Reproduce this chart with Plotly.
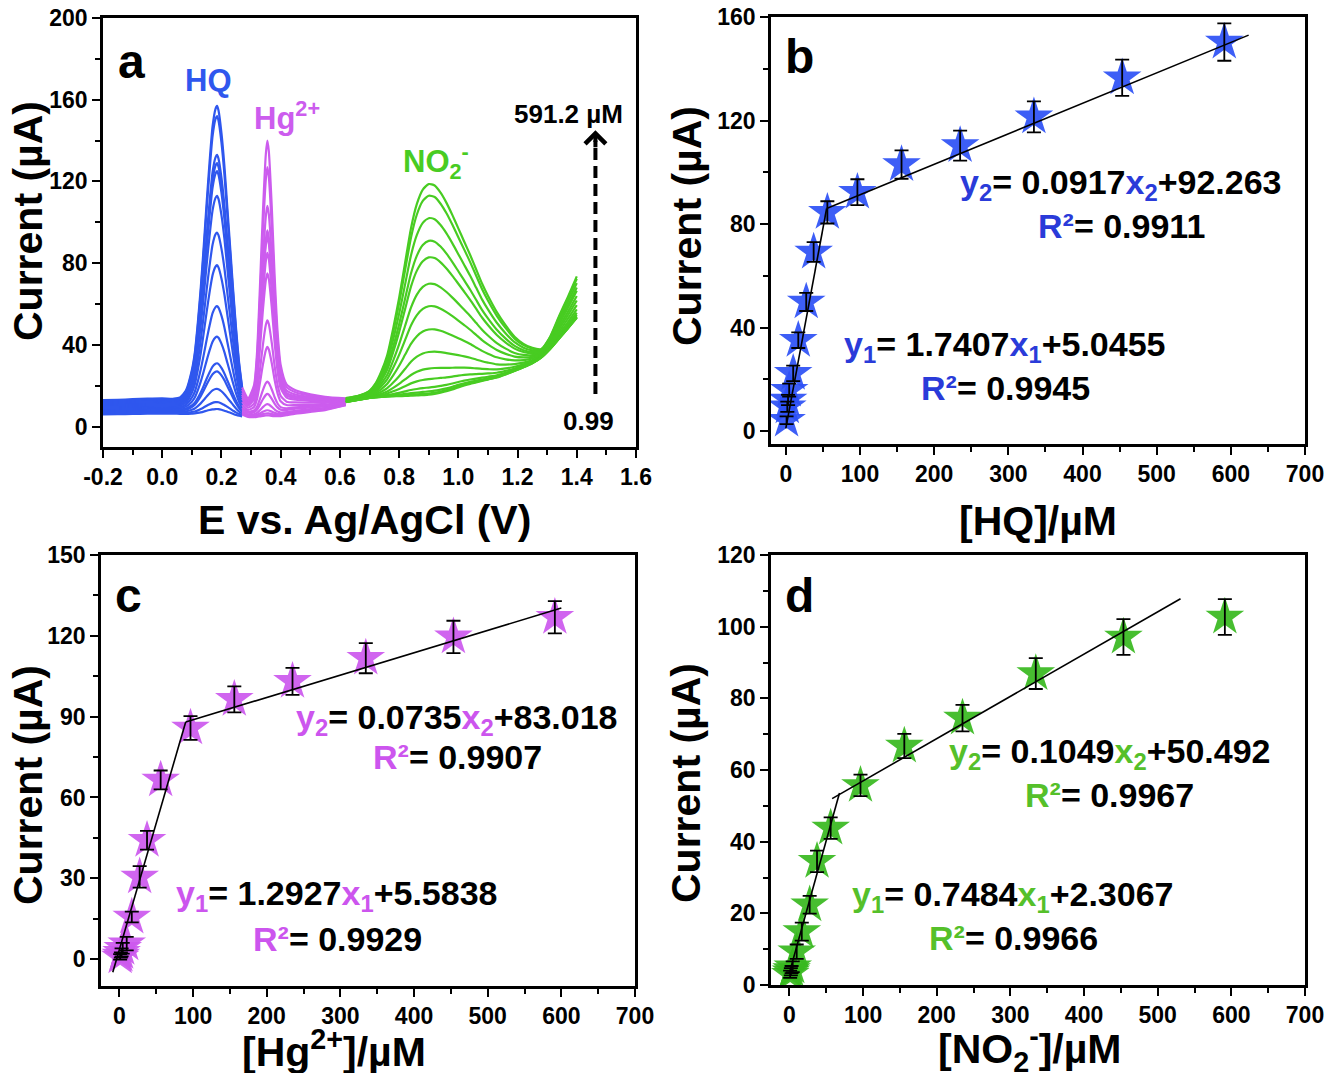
import plotly.graph_objects as go
import numpy as np

# ---------------- Panel a: voltammogram data ----------------
HQ_E = [-0.20, -0.15, -0.10, -0.05, 0.00, 0.04, 0.06, 0.08, 0.10, 0.11, 0.12, 0.13, 0.14, 0.15,
        0.16, 0.17, 0.18, 0.185, 0.19, 0.20, 0.21, 0.22, 0.23, 0.24, 0.25, 0.26, 0.27]
HQ_PROFILE = [0, 0, 0, 0, 0, 0, 0.005, 0.03, 0.10, 0.16, 0.26, 0.38, 0.52, 0.67,
              0.81, 0.93, 0.99, 1.0, 0.985, 0.91, 0.80, 0.66, 0.52, 0.38, 0.25, 0.14, 0.06]
HQ_BASE_SHAPE = [1.0, 1.01, 1.03, 1.05, 1.06, 1.05, 1.04, 1.02, 1.0, 0.98, 0.96, 0.94, 0.92, 0.9,
                 0.88, 0.86, 0.85, 0.85, 0.85, 0.84, 0.83, 0.82, 0.82, 0.81, 0.8, 0.8, 0.8]
HQ_PEAKS = [157, 152, 133, 129, 125, 113, 95, 79, 59, 44, 31, 27, 18.5, 12, 8.6]
HQ_BASES = [13, 12.5, 12, 11.5, 11, 10.5, 10, 9.5, 9, 8.5, 8, 7.5, 7, 6.5, 6]

HG_E = [0.27, 0.29, 0.31, 0.32, 0.33, 0.34, 0.35, 0.355, 0.36, 0.37, 0.38, 0.39, 0.40,
        0.42, 0.45, 0.50, 0.55, 0.62]
HG_PROFILE = [0.05, 0.03, 0.08, 0.20, 0.45, 0.73, 0.95, 1.0, 0.96, 0.75, 0.48, 0.27, 0.15,
              0.07, 0.04, 0.02, 0.01, 0.0]
HG_BASE_SHAPE = [0.9, 0.72, 0.70, 0.70, 0.70, 0.70, 0.70, 0.70, 0.70, 0.70, 0.72, 0.74, 0.76,
                 0.80, 0.84, 0.80, 0.70, 0.45]
HG_BACKGROUND = [0, 0, 0, 0, 0, 0, 0, 0, 0, 0, 0, 0, 0, 0.3, 0.8, 2.0, 3.5, 7.5]
HG_PEAKS = [140, 127, 108, 96, 93, 85, 75, 52, 39, 22, 16, 11, 8, 6.5, 5.5]
HG_BASES = [14, 13.5, 13, 12.5, 12.5, 12, 11.5, 11, 10, 9.5, 9, 8, 7.5, 7, 6.5]

NO2_E = [0.62, 0.66, 0.70, 0.72, 0.74, 0.76, 0.78, 0.80, 0.82, 0.84, 0.86, 0.88, 0.90, 0.92,
         0.94, 0.96, 0.98, 1.00, 1.02, 1.04, 1.06, 1.08, 1.10, 1.13, 1.16, 1.19, 1.22, 1.25,
         1.28, 1.31, 1.34, 1.37, 1.40]
NO2_TOP = [14, 15, 17.5, 21, 27, 35, 48, 63, 80, 97, 109, 116, 118.7, 118, 114.5, 109.5, 103.5,
           97, 90.5, 84, 77, 70, 64, 56, 49.5, 44, 40.5, 38.5, 38, 44, 54, 63.5, 73.5]
NO2_LOW = [12, 13, 14, 14.3, 14.5, 14.7, 14.8, 14.9, 15, 15.1, 15.2, 15.4, 15.6, 16, 16.6,
           17.3, 18.2, 19.2, 20.1, 20.9, 21.6, 22.3, 23, 24, 25.5, 27.2, 29, 31, 33.8, 38, 43,
           48, 53.2]
NO2_PEAKS = [118.7, 113, 102, 90.9, 82.8, 69.9, 58.9, 47.5, 36.5, 28.4, 23.2, 19.1, 17.2, 16.2, 15.6]

# ---------------- Panels b-d: calibration data ----------------
CONC = [0.99, 1.98, 2.97, 4.5, 9.9, 16.8, 27.5, 37.5, 56.0, 96.5, 156.0, 235.0, 334.5, 453.5, 591.2]
HQ_I = [4.2, 9.4, 12.0, 15.8, 22.3, 35.1, 49.9, 69.2, 84.5, 92.3, 103.0, 110.3, 121.4, 136.5, 150.3]
HQ_ERR = [1.5, 2.0, 2.0, 2.5, 3.0, 3.0, 3.5, 3.8, 4.3, 5.0, 5.5, 5.8, 6.0, 7.0, 7.2]
HG_I = [0.8, 1.5, 2.5, 4.0, 5.7, 15.6, 30.5, 44.1, 66.5, 85.8, 96.4, 103.1, 111.7, 119.6, 126.9]
HG_ERR = [1.0, 1.0, 1.5, 2.0, 2.5, 2.0, 4.0, 3.5, 3.5, 4.4, 4.8, 5.0, 5.6, 6.0, 6.0]
NO2_I = [3.0, 3.7, 4.3, 5.1, 9.3, 14.9, 22.4, 34.5, 43.8, 55.7, 66.7, 74.5, 86.9, 97.1, 102.7]
NO2_ERR = [1.0, 1.0, 1.0, 1.5, 2.0, 2.5, 2.5, 3.0, 3.0, 3.0, 3.4, 3.7, 4.3, 5.0, 5.0]

# fitted segments (end points)
HQ_FIT1_X, HQ_FIT1_Y = [0, 55], [1.0, 86.0]
HQ_FIT2_X, HQ_FIT2_Y = [55, 624], [86.0, 153.0]
HG_FIT1_X, HG_FIT1_Y = [-9, 90], [-4.9, 88.0]
HG_FIT2_X, HG_FIT2_Y = [90, 600], [88.0, 130.3]
NO2_FIT1_X, NO2_FIT1_Y = [0, 68], [3.4, 53.6]
NO2_FIT2_X, NO2_FIT2_Y = [58, 531], [52.0, 107.8]

# tick labels
A_XTICKS = [-0.2, 0.0, 0.2, 0.4, 0.6, 0.8, 1.0, 1.2, 1.4, 1.6]
A_XTEXT = ["-0.2", "0.0", "0.2", "0.4", "0.6", "0.8", "1.0", "1.2", "1.4", "1.6"]

# ---------------- styling ----------------
PAGE_MARGIN = 8                      # default body margin of the html page
W, H = 1332 - 2 * PAGE_MARGIN, 1081 - 2 * PAGE_MARGIN
FONT = "Liberation Sans, Arial, sans-serif"
BLUE, MAG, GREEN = "#2F57EE", "#CC5CEE", "#48CC22"
BLUE_TXT, MAG_TXT, GREEN_TXT = "#2A3BD9", "#CC55EE", "#55C02A"
BLUE_STAR, MAG_STAR, GREEN_STAR = "rgba(45,80,245,0.92)", "rgba(204,88,238,0.92)", "rgba(55,185,30,0.92)"


def px_x(p):
    return (p - PAGE_MARGIN) / W


def px_y(p):
    return 1 - (p - PAGE_MARGIN) / H


fig = go.Figure()

# ---- panel a curves ----
hq_e = np.array(HQ_E)
hq_p = np.array(HQ_PROFILE)
hq_s = np.array(HQ_BASE_SHAPE)
for pk, b in zip(HQ_PEAKS, HQ_BASES):
    h = pk - b * 0.85
    y = b * hq_s + h * hq_p
    fig.add_trace(go.Scatter(x=hq_e, y=y, mode="lines", line=dict(color=BLUE, width=2.2, shape="spline", smoothing=0.6),
                             xaxis="x", yaxis="y", hoverinfo="skip", showlegend=False))

hg_e = np.array(HG_E)
hg_p = np.array(HG_PROFILE)
hg_s = np.array(HG_BASE_SHAPE)
hg_bg = np.array(HG_BACKGROUND)
for pk, b in zip(HG_PEAKS, HG_BASES):
    h = pk - b * 0.70
    y = b * hg_s + hg_bg + h * hg_p
    fig.add_trace(go.Scatter(x=hg_e, y=y, mode="lines", line=dict(color=MAG, width=2.2, shape="spline", smoothing=0.6),
                             xaxis="x", yaxis="y", hoverinfo="skip", showlegend=False))

no2_top = np.array(NO2_TOP)
no2_low = np.array(NO2_LOW)
pk_i = NO2_E.index(0.90)
for pk in NO2_PEAKS:
    w = (pk - no2_low[pk_i]) / (no2_top[pk_i] - no2_low[pk_i])
    y = no2_low + w * (no2_top - no2_low)
    fig.add_trace(go.Scatter(x=NO2_E, y=y, mode="lines", line=dict(color=GREEN, width=2.2, shape="spline", smoothing=0.6),
                             xaxis="x", yaxis="y", hoverinfo="skip", showlegend=False))


# ---- calibration panels ----
def add_cal(xa, ya, yv, err, star, fits):
    fig.add_trace(go.Scatter(x=CONC, y=yv, mode="markers", xaxis=xa, yaxis=ya,
                             marker=dict(symbol="star", size=29, color=star, line=dict(width=0)),
                             hoverinfo="skip", showlegend=False))
    fig.add_trace(go.Scatter(x=CONC, y=yv, mode="markers", xaxis=xa, yaxis=ya,
                             marker=dict(size=1, color="rgba(0,0,0,0)"),
                             error_y=dict(type="data", array=err, color="black", thickness=1.8, width=7),
                             hoverinfo="skip", showlegend=False))
    for fx, fy in fits:
        fig.add_trace(go.Scatter(x=fx, y=fy, mode="lines", xaxis=xa, yaxis=ya,
                                 line=dict(color="black", width=1.6), hoverinfo="skip", showlegend=False))


add_cal("x2", "y2", HQ_I, HQ_ERR, BLUE_STAR, [(HQ_FIT1_X, HQ_FIT1_Y), (HQ_FIT2_X, HQ_FIT2_Y)])
add_cal("x3", "y3", HG_I, HG_ERR, MAG_STAR, [(HG_FIT1_X, HG_FIT1_Y), (HG_FIT2_X, HG_FIT2_Y)])
add_cal("x4", "y4", NO2_I, NO2_ERR, GREEN_STAR, [(NO2_FIT1_X, NO2_FIT1_Y), (NO2_FIT2_X, NO2_FIT2_Y)])

# ---- axes ----
tickfont = dict(family=FONT, size=23, color="black", weight="bold")


def ax(domain, rng, dtick, mdt, anchor, **kw):
    d = dict(domain=domain, range=rng, dtick=dtick, anchor=anchor, showline=True, mirror=True,
             linecolor="black", linewidth=2.5, ticks="outside", ticklen=8, tickwidth=2.2, tickcolor="black",
             showgrid=False, zeroline=False, tickfont=tickfont, fixedrange=True, automargin=False,
             ticklabeloverflow="allow",
             minor=dict(ticks="outside", ticklen=5, tickwidth=2, tickcolor="black", dtick=mdt, showgrid=False))
    d.update(kw)
    return d


XA = [px_x(103), px_x(636)]
XB = [px_x(771), px_x(1305)]
XC = [px_x(101), px_x(635)]
YA = [px_y(447), px_y(18)]
YB = [px_y(444), px_y(17)]
YC = [px_y(986), px_y(555)]
YD = [px_y(985), px_y(555)]

fig.update_layout(
    width=W, height=H, margin=dict(l=0, r=0, t=0, b=0, pad=0, autoexpand=False),
    paper_bgcolor="white", plot_bgcolor="white", showlegend=False,
    xaxis=ax(XA, [-0.2, 1.6], 0.2, 0.1, "y", tickmode="array", tickvals=A_XTICKS, ticktext=A_XTEXT,
             minor=dict(ticks="outside", ticklen=5, tickwidth=2, tickcolor="black", tickmode="linear",
                        tick0=-0.1, dtick=0.2, showgrid=False)),
    yaxis=ax(YA, [-10, 200], 40, 20, "x"),
    xaxis2=ax(XB, [-20, 700], 100, 50, "y2"),
    yaxis2=ax(YB, [-5, 160], 40, 20, "x2"),
    xaxis3=ax(XC, [-25, 700], 100, 50, "y3"),
    yaxis3=ax(YC, [-10, 150], 30, 15, "x3"),
    xaxis4=ax(XB, [-25, 700], 100, 50, "y4"),
    yaxis4=ax(YD, [0, 120], 20, 10, "x4"),
)

# ---- annotations ----
ann = []


def paper_text(txt, x, y, size, color="black", angle=0):
    ann.append(dict(text=txt, x=px_x(x), y=px_y(y), xref="paper", yref="paper", showarrow=False,
                    xanchor="center", yanchor="middle", textangle=angle,
                    font=dict(family=FONT, size=size, color=color, weight="bold")))


def data_text(txt, x, y, xr, yr, size, color="black"):
    ann.append(dict(text=txt, x=x, y=y, xref=xr, yref=yr, showarrow=False, xanchor="center",
                    yanchor="middle", font=dict(family=FONT, size=size, color=color, weight="bold")))


# axis titles
paper_text("Current (µA)", 28, 221, 41, angle=-90)
paper_text("E vs. Ag/AgCl (V)", 364, 520, 41)
paper_text("Current (µA)", 687, 226, 41, angle=-90)
paper_text("[HQ]/µM", 1038, 521, 41)
paper_text("Current (µA)", 28, 785, 41, angle=-90)
paper_text("[Hg<sup>2+</sup>]/µM", 334, 1049, 41)
paper_text("Current (µA)", 686, 783, 41, angle=-90)
paper_text("[NO<sub>2</sub><sup>-</sup>]/µM", 1030, 1049, 41)

# panel letters
paper_text("a", 131, 61, 48)
paper_text("b", 799, 57, 48)
paper_text("c", 128, 595, 48)
paper_text("d", 799, 595, 48)

# panel a labels
data_text("HQ", 0.155, 169.5, "x", "y", 31, BLUE)
data_text("Hg<sup>2+</sup>", 0.42, 152, "x", "y", 31, MAG)
data_text("NO<sub>2</sub><sup>-</sup>", 0.925, 130, "x", "y", 31, GREEN)
data_text("591.2 µM", 1.372, 153, "x", "y", 26)
data_text("0.99", 1.44, 2.9, "x", "y", 26)


def eq(c, yi, slope, icpt):
    return (f"<span style='color:{c}'>y<sub>{yi}</sub></span>= {slope}"
            f"<span style='color:{c}'>x<sub>{yi}</sub></span>+{icpt}")


def r2(c, v):
    return f"<span style='color:{c}'>R²</span>= {v}"


EQ_SIZE = 34
data_text(eq(BLUE_TXT, 2, "0.0917", "92.263"), 452, 95.2, "x2", "y2", EQ_SIZE)
data_text(r2(BLUE_TXT, "0.9911"), 452, 79.2, "x2", "y2", EQ_SIZE)
data_text(eq(BLUE_TXT, 1, "1.7407", "5.0455"), 296, 32.6, "x2", "y2", EQ_SIZE)
data_text(r2(BLUE_TXT, "0.9945"), 296, 16.6, "x2", "y2", EQ_SIZE)

data_text(eq(MAG_TXT, 2, "0.0735", "83.018"), 459, 89.0, "x3", "y3", EQ_SIZE)
data_text(r2(MAG_TXT, "0.9907"), 459, 74.9, "x3", "y3", EQ_SIZE)
data_text(eq(MAG_TXT, 1, "1.2927", "5.5838"), 296, 23.5, "x3", "y3", EQ_SIZE)
data_text(r2(MAG_TXT, "0.9929"), 296, 7.4, "x3", "y3", EQ_SIZE)

data_text(eq(GREEN_TXT, 2, "0.1049", "50.492"), 435, 64.5, "x4", "y4", EQ_SIZE)
data_text(r2(GREEN_TXT, "0.9967"), 435, 53.0, "x4", "y4", EQ_SIZE)
data_text(eq(GREEN_TXT, 1, "0.7484", "2.3067"), 304, 24.6, "x4", "y4", EQ_SIZE)
data_text(r2(GREEN_TXT, "0.9966"), 304, 13.0, "x4", "y4", EQ_SIZE)

# arrow head for the dashed concentration arrow
ann.append(dict(x=1.463, y=145, ax=1.463, ay=136, xref="x", yref="y", axref="x", ayref="y",
                showarrow=True, arrowhead=4, arrowsize=1.0, arrowwidth=4, arrowcolor="black", text=""))

fig.update_layout(annotations=ann)
fig.add_shape(type="line", xref="x", yref="y", x0=1.463, x1=1.463, y0=15.9, y1=140,
              line=dict(color="black", width=4, dash="12px,6px"))

fig.write_html("out.html")
